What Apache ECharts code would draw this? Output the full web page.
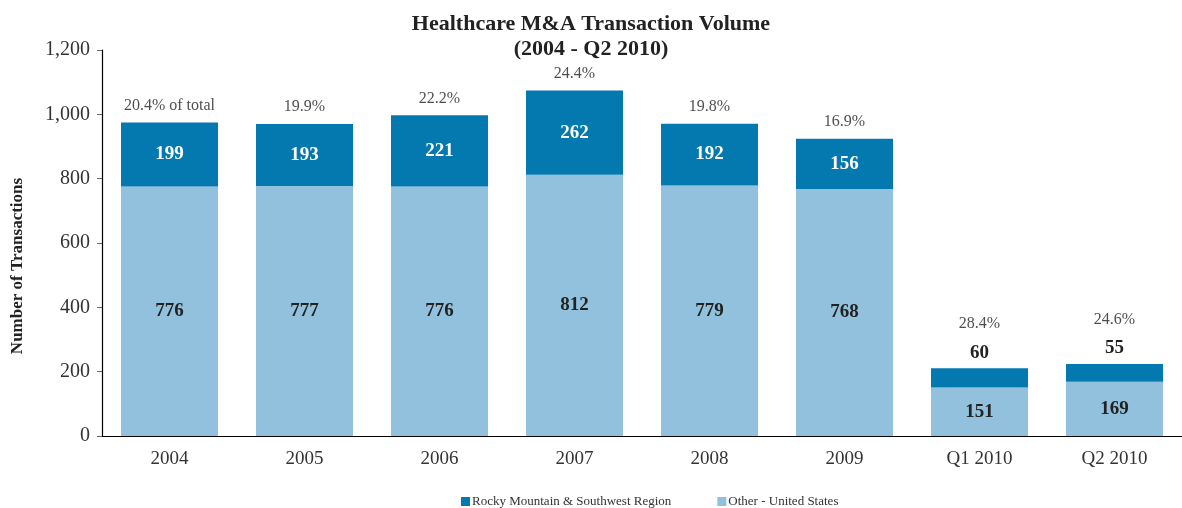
<!DOCTYPE html>
<html>
<head>
<meta charset="utf-8">
<script src="https://cdn.jsdelivr.net/npm/echarts@6/dist/echarts.min.js"></script>
<style>
  html, body { margin: 0; padding: 0; background: #fff; }
  #chart { width: 1182px; height: 508px; }
</style>
</head>
<body>
<div id="chart"></div>
<script>
const categories = ['2004', '2005', '2006', '2007', '2008', '2009', 'Q1 2010', 'Q2 2010']
const rockyMountain = [199, 193, 221, 262, 192, 156, 60, 55]
const otherUS = [776, 777, 776, 812, 779, 768, 151, 169]
const shareLabels = ['20.4% of total', '19.9%', '22.2%', '24.4%', '19.8%', '16.9%', '28.4%', '24.6%']
const yTicks = [0, 200, 400, 600, 800, 1000, 1200]

const darkBlue = '#0479AF'
const lightBlue = '#92C1DD'
const font = 'Liberation Serif'

const chart = echarts.init(document.getElementById('chart'))

// small quarters get their value above the bar in black
const rockyData = rockyMountain.map((v, i) => {
  if (i < 6) return v
  return {
    value: v,
    label: { position: 'top', color: '#222', distance: 6 }
  }
})

const totals = rockyMountain.map((v, i) => v + otherUS[i])
const shareData = totals.map((v, i) => ({
  value: v,
  label: { distance: i < 6 ? 9 : 36 }
}))

chart.setOption({
  animation: false,
  textStyle: { fontFamily: font },
  title: {
    text: 'Healthcare M&A Transaction Volume\n(2004 - Q2 2010)',
    left: 'center',
    top: 7,
    textStyle: { fontFamily: font, fontSize: 22, fontWeight: 'bold', color: '#222', lineHeight: 25 }
  },
  graphic: [{
    type: 'text',
    x: 18,
    y: 266,
    rotation: Math.PI / 2,
    style: {
      text: 'Number of Transactions',
      font: 'bold 17px "Liberation Serif"',
      fill: '#222',
      align: 'center',
      verticalAlign: 'middle'
    }
  }],
  legend: {
    bottom: -5,
    left: 456,
    itemWidth: 9,
    itemHeight: 9,
    itemGap: 46,
    icon: 'rect',
    data: ['Rocky Mountain & Southwest Region', 'Other - United States'],
    textStyle: { fontFamily: font, fontSize: 13, color: '#333', padding: [0, 0, 0, -3] }
  },
  grid: { left: 102, right: -3, top: 50, bottom: 72 },
  xAxis: {
    type: 'category',
    data: categories,
    axisLine: { lineStyle: { color: '#000', width: 1.2 } },
    axisTick: { length: 5, lineStyle: { color: '#666' } },
    axisLabel: { fontFamily: font, fontSize: 19, color: '#333', margin: 14 }
  },
  yAxis: {
    type: 'value',
    min: yTicks[0],
    max: yTicks[yTicks.length - 1],
    interval: 200,
    splitLine: { show: false },
    axisLine: { show: true, lineStyle: { color: '#000', width: 1.2 } },
    axisTick: { show: true, length: 5, lineStyle: { color: '#666' } },
    axisLabel: {
      fontFamily: font, fontSize: 20, color: '#333', margin: 12,
      formatter: v => v.toLocaleString('en-US')
    }
  },
  series: [
    {
      name: 'Other - United States',
      type: 'bar',
      stack: 'total',
      barWidth: 97,
      itemStyle: { color: lightBlue },
      label: { show: true, position: 'inside', fontFamily: font, fontSize: 19, fontWeight: 'bold', color: '#222' },
      data: otherUS
    },
    {
      name: 'Rocky Mountain & Southwest Region',
      type: 'bar',
      stack: 'total',
      barWidth: 97,
      itemStyle: { color: darkBlue },
      label: { show: true, position: 'inside', fontFamily: font, fontSize: 19, fontWeight: 'bold', color: '#fff' },
      data: rockyData
    },
    {
      name: 'share',
      type: 'scatter',
      symbolSize: 0,
      silent: true,
      label: {
        show: true,
        position: 'top',
        fontFamily: font,
        fontSize: 16,
        color: '#222',
        formatter: p => shareLabels[p.dataIndex]
      },
      data: shareData
    }
  ]
})
</script>
</body>
</html>
